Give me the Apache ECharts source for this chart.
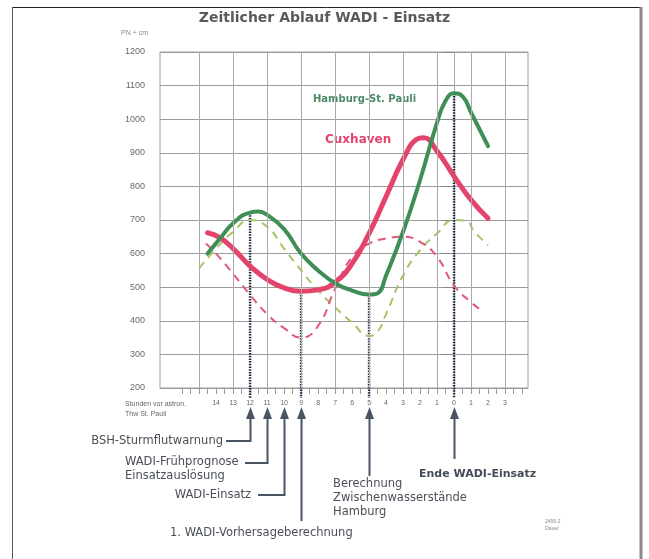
<!DOCTYPE html>
<html><head><meta charset="utf-8">
<script src="https://cdn.jsdelivr.net/npm/echarts@6/dist/echarts.min.js"></script>
<style>html,body{margin:0;padding:0;background:#fff}#c{width:649px;height:559px}</style>
</head><body><div id="c"></div>
<script>
// ---- data (hours relative to astronomical high water St. Pauli; negative = before) ----
const cuxSolid = [[-14.5,662],[-13.8,648],[-13,615],[-12,563],[-11,523],[-10,498],[-9,488],[-8,492],[-7,515],[-6,570],[-5,660],[-4,770],[-3,880],[-2.2,940],[-1.8,945],[-1,905],[0,830],[1,760],[2,705]];
const hhSolid = [[-14.5,600],[-13.8,643],[-13,690],[-12,722],[-11.5,725],[-11,715],[-10,673],[-9,600],[-8,550],[-7,512],[-6,490],[-5,478],[-4.5,482],[-4,535],[-3,665],[-2,819],[-1,990],[-0.5,1055],[0,1077],[0.5,1068],[1,1020],[2,920]];
const cuxAstro = [[-14.6,630],[-14,600],[-13,540],[-12,477],[-11,420],[-10,378],[-9,350],[-8,385],[-7,495],[-6,590],[-5,630],[-4,645],[-3,650],[-2,635],[-1,590],[0,505],[1,455],[1.7,428]];
const hhAstro = [[-15,556],[-14,615],[-13,665],[-12,700],[-11,680],[-10,615],[-9,550],[-8,490],[-7,440],[-6,395],[-5,355],[-4.5,368],[-4,420],[-3,535],[-2,610],[-1,660],[0,700],[0.7,697],[1.2,665],[2,625]];
const markerHours = [-12,-9,-5,0];
const markerTops = [722,485,477,1077];
const hourLabels = [-14,-13,-12,-11,-10,-9,-8,-7,-6,-5,-4,-3,-2,-1,0,1,2,3];
const halfHourTicks = []; for (let h=-16; h<=4; h+=0.5) halfHourTicks.push(h);
const gridHours = [-15,-13,-11,-9,-7,-5,-3,-1,1,3];
const yTicks = [200,1200,100];
const title = 'Zeitlicher Ablauf WADI - Einsatz';
const annotations = [
  {h:-12, yEnd:441, xEnd:226, lines:['BSH-Sturmflutwarnung'], tx:223, ty:441, align:'right', bold:false},
  {h:-11, yEnd:463, xEnd:245, lines:['WADI-Frühprognose','Einsatzauslösung'], tx:125, ty:462, align:'left', bold:false},
  {h:-10, yEnd:495, xEnd:258, lines:['WADI-Einsatz'], tx:251, ty:495, align:'right', bold:false},
  {h:-9, yEnd:521, xEnd:null, lines:['1. WADI-Vorhersageberechnung'], tx:170, ty:533, align:'left', bold:false},
  {h:-5, yEnd:476, xEnd:null, lines:['Berechnung','Zwischenwasserstände','Hamburg'], tx:333, ty:484, align:'left', bold:false},
  {h:0, yEnd:459, xEnd:null, lines:['Ende WADI-Einsatz'], tx:419, ty:474, align:'left', bold:true}
];

const RED='#e4436c', GREEN='#3e8e55', RED_D='#e2587a', GREEN_D='#a9c463', DARK='#4b5465';
const FONT='"Liberation Sans", Arial, sans-serif';
const WFONT='"DejaVu Sans", sans-serif';
const chart = echarts.init(document.getElementById('c'), null, {renderer:'canvas'});

const markerSeries = markerHours.map((h,i)=>({
  type:'line', data:[[h,markerTops[i]],[h,170]], symbol:'none', clip:false, silent:true, z:1,
  lineStyle:{color:'#1d2944', width:2.5, type:[1.5,1.2]}
}));

chart.setOption({
  animation:false,
  grid:{left:160, right:121, top:52, bottom:171, show:true, borderColor:'#a0a0a0', borderWidth:1},
  xAxis:{type:'value', min:-17.3, max:4.35,
    axisLine:{show:true, lineStyle:{color:'#999', width:1}},
    axisTick:{show:true, customValues:halfHourTicks, length:6, lineStyle:{color:'#999'}},
    axisLabel:{customValues:hourLabels, formatter:v=>String(Math.abs(v)), fontSize:7, color:'#666', margin:12, fontFamily:FONT},
    splitLine:{show:false}},
  yAxis:{type:'value', min:yTicks[0], max:yTicks[1], interval:yTicks[2],
    axisLine:{show:true, lineStyle:{color:'#aaa'}},
    axisTick:{show:true, length:12, lineStyle:{color:'#888'}},
    axisLabel:{fontSize:9, color:'#6a6a6a', margin:15, fontFamily:FONT, formatter:v=>String(v)},
    splitLine:{show:true, lineStyle:{color:'#9c9c9c', width:1.2}}},
  series:[
    {type:'line', data:[], silent:true, markLine:{silent:true, symbol:'none', label:{show:false},
      lineStyle:{color:'#aaaaaa', width:1, type:'solid'}, data:gridHours.map(h=>({xAxis:h}))}},
    {type:'line', name:'Hamburg astro', data:hhAstro, smooth:0.5, symbol:'none', z:2,
      lineStyle:{color:GREEN_D, width:2, type:[8,6]}},
    {type:'line', name:'Cuxhaven astro', data:cuxAstro, smooth:0.5, symbol:'none', z:2,
      lineStyle:{color:RED_D, width:2, type:[8,6]}},
    ...markerSeries,
    {type:'line', name:'Cuxhaven', data:cuxSolid, smooth:0.5, symbol:'none', z:3,
      lineStyle:{color:RED, width:5, cap:'round'}},
    {type:'line', name:'Hamburg-St. Pauli', data:hhSolid, smooth:0.5, symbol:'none', z:4,
      lineStyle:{color:GREEN, width:4, cap:'round'}}
  ]
});

const g = [];
g.push({type:'text', left:'center', top:11, style:{text:title, font:'bold 14px '+WFONT, fill:'#5a5a5a'}});
g.push({type:'text', x:121, y:30, style:{text:'PN + cm', font:'7px '+FONT, fill:'#888'}});
g.push({type:'text', x:125, y:401, style:{text:'Stunden vor astron.', font:'7px '+FONT, fill:'#666'}});
g.push({type:'text', x:125, y:411, style:{text:'Thw St. Pauli', font:'7px '+FONT, fill:'#666'}});
g.push({type:'text', x:313, y:94, style:{text:'Hamburg-St. Pauli', font:'bold 10px '+WFONT, fill:'#4d8a66'}});
g.push({type:'text', x:325, y:134, style:{text:'Cuxhaven', font:'bold 12px '+WFONT, fill:RED}});
g.push({type:'text', x:545, y:518, style:{text:'2455-2\nDauer', font:'5px '+FONT, fill:'#888', lineHeight:7}});
// frame
g.push({type:'line', shape:{x1:12,y1:7.5,x2:641,y2:7.5}, style:{stroke:'#222', lineWidth:1}});
g.push({type:'line', shape:{x1:12.5,y1:7,x2:12.5,y2:559}, style:{stroke:'#555', lineWidth:1}});
g.push({type:'line', shape:{x1:641,y1:7,x2:641,y2:559}, style:{stroke:'#8a8a8a', lineWidth:3}});
annotations.forEach(a=>{
  const px = Math.round(chart.convertToPixel({xAxisIndex:0}, a.h))+0.5;
  const pts = [[px,417],[px,a.yEnd]];
  if (a.xEnd!==null) pts.push([a.xEnd,a.yEnd]);
  g.push({type:'polyline', shape:{points:pts}, style:{stroke:DARK, lineWidth:2, fill:null}});
  g.push({type:'polygon', shape:{points:[[px,407],[px-4.5,419],[px+4.5,419]]}, style:{fill:DARK}});
  a.lines.forEach((t,i)=>{
    g.push({type:'text', x:a.tx, y:a.ty+i*14, style:{text:t, font:(a.bold?'bold 11px ':'11.5px ')+WFONT, fill:a.bold?'#444c5a':'#4a4f58', textAlign:a.align, textVerticalAlign:'middle'}});
  });
});
chart.setOption({graphic:g});
</script></body></html>
